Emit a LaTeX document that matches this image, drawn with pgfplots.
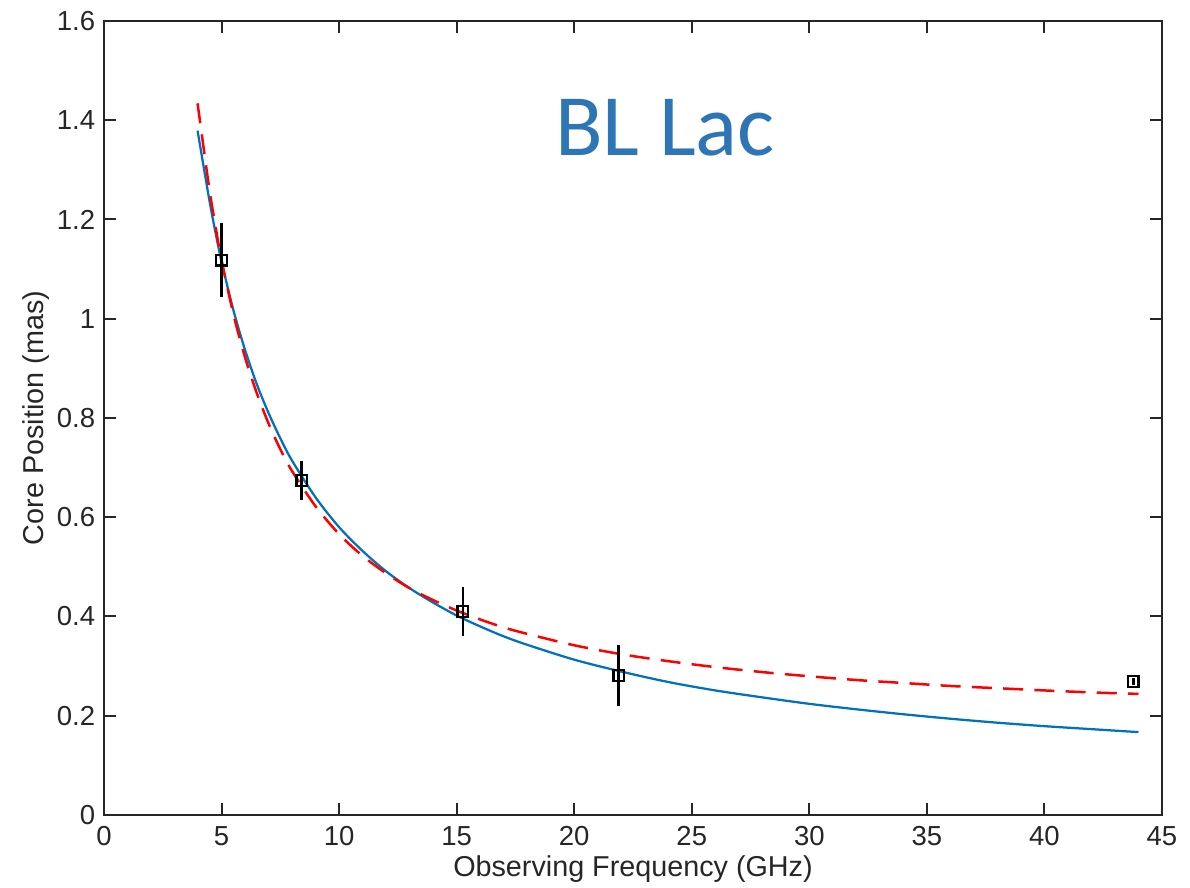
\documentclass[border=0pt]{standalone}
\usepackage{fontspec}
\setmainfont{Liberation Sans}
\newfontfamily\titlefont{Carlito}
\usepackage{pgfplots}
\pgfplotsset{compat=1.18}
\definecolor{mblue}{HTML}{0072BD}
\definecolor{tblue}{HTML}{2E75B6}
\definecolor{axgray}{HTML}{262626}
\begin{document}
\begin{tikzpicture}
\begin{axis}[
  scale only axis,
  width=423.2pt, height=317.6pt,
  xmin=0, xmax=45, ymin=0, ymax=1.6,
  xtick={0,5,10,15,20,25,30,35,40,45},
  ytick={0,0.2,0.4,0.6,0.8,1,1.2,1.4,1.6},
  yticklabels={0,0.2,0.4,0.6,0.8,1,1.2,1.4,1.6},
  /pgf/number format/assume math mode=true,
  tick align=inside,
  major tick length=4.7pt,
  axis line style={axgray, line width=0.8pt},
  tick style={axgray, line width=0.8pt},
  ticklabel style={font=\fontsize{11}{13}\selectfont, text=axgray},
  xticklabel style={yshift=-1pt},
  label style={font=\fontsize{11.5}{13}\selectfont, text=axgray},
  xlabel={Observing Frequency (GHz)},
  ylabel={Core Position (mas)},
  xlabel style={yshift=3pt},
  ylabel style={yshift=-4pt},
  clip=false,
]
% blue solid fit
\addplot[mblue, line width=0.9pt, smooth] coordinates {
 (3.98,1.379) (4.25,1.303) (4.5,1.234) (4.75,1.172) (5,1.115) (5.5,1.018) (6,0.937) (6.5,0.868)
 (7,0.810) (7.5,0.759) (8,0.714) (9,0.640) (10,0.580) (11,0.532) (12,0.491)
 (13,0.457) (14,0.428) (15,0.402) (16,0.380) (17,0.360) (18,0.343) (20,0.313)
 (22,0.289) (24,0.268) (26,0.251) (28,0.237) (30,0.224) (32,0.213) (34,0.203)
 (36,0.194) (38,0.186) (40,0.179) (42,0.173) (44,0.167)
};
% red dashed fit
\addplot[red, line width=1pt, dash pattern=on 8pt off 4.5pt, smooth] coordinates {
 (3.98,1.434) (4.25,1.340) (4.5,1.255) (4.75,1.184) (5,1.118) (5.5,1.010) (6,0.922) (6.5,0.850)
 (7,0.789) (7.5,0.737) (8,0.693) (9,0.622) (10,0.566) (11,0.522) (12,0.487)
 (13,0.457) (14,0.433) (15,0.412) (16,0.394) (17,0.378) (18,0.365) (20,0.342)
 (22,0.324) (24,0.310) (26,0.298) (28,0.288) (30,0.2795) (32,0.272) (34,0.266)
 (36,0.260) (38,0.2555) (40,0.251) (42,0.247) (44,0.244)
};
% data
\addplot[only marks, mark=square, mark size=2.1pt, mark options={black, line width=0.9pt},
  error bars/.cd, y dir=both, y explicit, error mark=none,
  error bar style={black, line width=1pt}] coordinates {
 (5.0,1.118) +- (0,0.074)
 (8.41,0.674) +- (0,0.040)
 (15.26,0.410) +- (0,0.050)
 (21.89,0.281) +- (0,0.062)
 (43.78,0.269) +- (0,0.008)
};
\node[text=tblue, font=\titlefont\fontsize{35}{40}\selectfont] at (axis cs:23.86,1.384) {BL Lac};
\end{axis}
\pgfresetboundingbox
\useasboundingbox (-41.6pt,-29.2pt) rectangle (434.4pt,326pt);
\end{tikzpicture}
\end{document}
